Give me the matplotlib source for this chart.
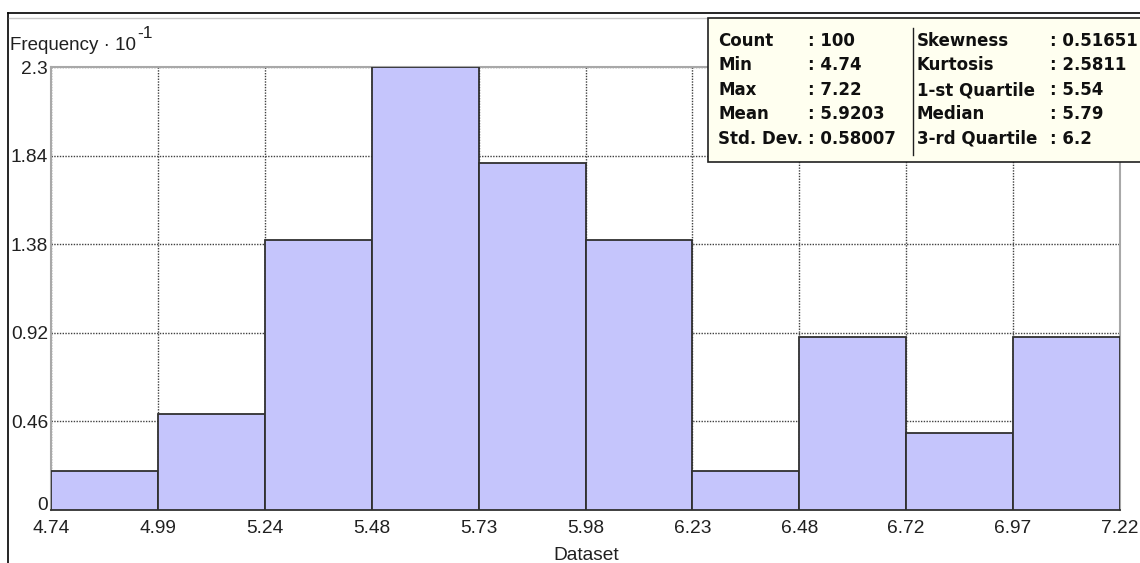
import matplotlib
matplotlib.use("Agg")
from matplotlib import pyplot as plt
from matplotlib.lines import Line2D
from matplotlib.patches import Rectangle

# bin edges and relative frequencies (x 10^-1)
edges = [4.74, 4.988, 5.236, 5.484, 5.732, 5.98, 6.228, 6.476, 6.724, 6.972, 7.22]
edge_labels = ["4.74", "4.99", "5.24", "5.48", "5.73", "5.98", "6.23", "6.48", "6.72", "6.97", "7.22"]
freq = [0.2, 0.5, 1.4, 2.3, 1.8, 1.4, 0.2, 0.9, 0.4, 0.9]
y_ticks = [0, 0.46, 0.92, 1.38, 1.84, 2.3]
y_labels = ["0", "0.46", "0.92", "1.38", "1.84", "2.3"]

stats_left = [("Count", ": 100"), ("Min", ": 4.74"), ("Max", ": 7.22"),
              ("Mean", ": 5.9203"), ("Std. Dev.", ": 0.58007")]
stats_right = [("Skewness", ": 0.51651"), ("Kurtosis", ": 2.5811"),
               ("1-st Quartile", ": 5.54"), ("Median", ": 5.79"),
               ("3-rd Quartile", ": 6.2")]

W, H = 1140, 563
fig = plt.figure(figsize=(W / 100, H / 100), dpi=100)
fig.patch.set_facecolor("white")

def px(x, y):
    return x / W, 1 - y / H

# outer frame lines
fig.add_artist(Line2D([8 / W, 1], [1 - 13 / H] * 2, color="black", lw=1.2))
fig.add_artist(Line2D([8 / W] * 2, [0, 1 - 13 / H], color="black", lw=1.2))
fig.add_artist(Line2D([9 / W, 1], [1 - 18 / H] * 2, color="#c8c8c8", lw=1.0))

x0, x1, y0, y1 = 51, 1120, 67, 510
ax = fig.add_axes([x0 / W, 1 - y1 / H, (x1 - x0) / W, (y1 - y0) / H])
ax.set_xlim(edges[0], edges[-1])
ax.set_ylim(0, 2.3)

widths = [edges[i + 1] - edges[i] for i in range(len(freq))]
ax.bar(edges[:-1], freq, width=widths, align="edge", color="#c5c5fc",
       edgecolor="#303030", linewidth=1.3, zorder=3)

ax.set_xticks(edges)
ax.set_xticklabels(edge_labels)
ax.set_yticks(y_ticks)
ax.set_yticklabels(y_labels)
ax.tick_params(length=0, labelsize=13.8, labelcolor="#202020")
ax.tick_params(axis="x", pad=7)
ax.tick_params(axis="y", pad=2)
for lab in ax.get_xticklabels() + ax.get_yticklabels():
    lab.set_family("Liberation Sans")
ax.get_yticklabels()[0].set_va("baseline")
ax.grid(True, color="#404040", linestyle=(0, (1, 1)), linewidth=1.0, zorder=1)

for s in ["left", "top", "right"]:
    ax.spines[s].set_color("#a8a8a8")
    ax.spines[s].set_linewidth(1.5)
ax.spines["bottom"].set_color("#303030")
ax.spines["bottom"].set_linewidth(1.3)

fig.text(*px(586, 555), "Dataset", ha="center", va="center",
         fontsize=13.8, family="Liberation Sans", color="#202020")
fig.text(*px(10, 45), "Frequency \u00b7 10", ha="left", va="center",
         fontsize=13.5, family="Liberation Sans", color="#202020")
fig.text(*px(137, 33), "-1", ha="left", va="center",
         fontsize=12.5, family="Liberation Sans", color="#202020")

# statistics box
fig.add_artist(Rectangle(px(708, 162), (W - 708 + 5) / W, (162 - 18) / H,
                         facecolor="#fffff0", edgecolor="#202020", lw=1.2,
                         zorder=5))
fig.add_artist(Line2D([913 / W] * 2, [1 - 28 / H, 1 - 155 / H],
                      color="#202020", lw=1.0, zorder=6))
rows_y = [41, 65, 90, 114, 139]
for (k, v), y in zip(stats_left, rows_y):
    fig.text(*px(718, y), k, fontsize=12, weight="bold", color="#101010",
             va="center", zorder=7)
    fig.text(*px(808, y), v, fontsize=12, weight="bold", color="#101010",
             va="center", zorder=7)
for (k, v), y in zip(stats_right, rows_y):
    fig.text(*px(917, y), k, fontsize=12, weight="bold", color="#101010",
             va="center", zorder=7)
    fig.text(*px(1050, y), v, fontsize=12, weight="bold", color="#101010",
             va="center", zorder=7)

fig.savefig("out.png", dpi=100)
